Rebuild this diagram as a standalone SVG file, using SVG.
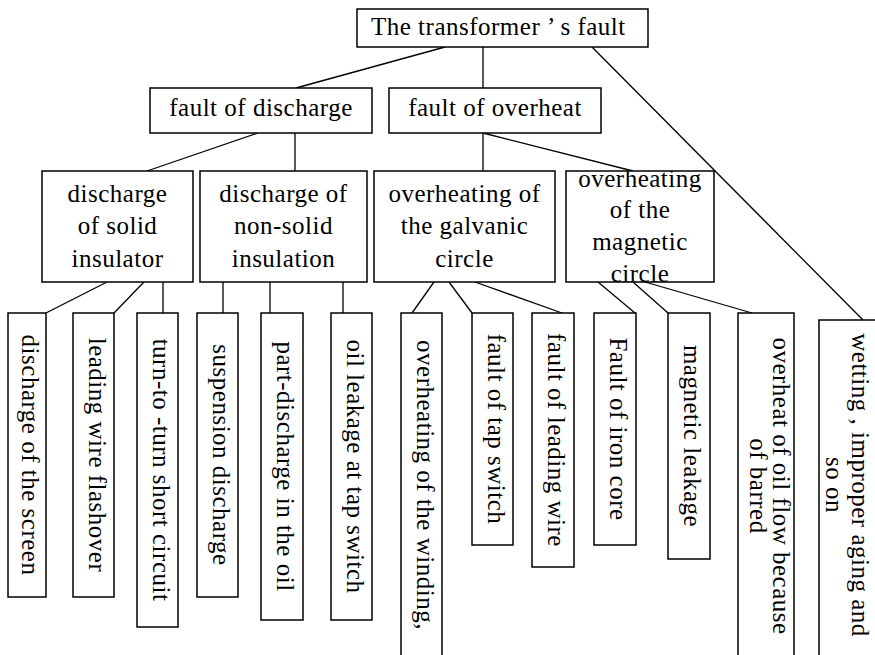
<svg xmlns="http://www.w3.org/2000/svg" width="875" height="655" viewBox="0 0 875 655">
<style>
.box{fill:#fff;stroke:#000;stroke-width:1.5}
.ln{stroke:#000;stroke-width:1.3;fill:none}
.t{font-family:"Liberation Serif","Times New Roman",serif;font-size:25px;letter-spacing:0.5px;fill:#000}
.c{text-anchor:middle}
</style>
<defs>
<clipPath id="clipMag"><rect x="566" y="171" width="160" height="200"/></clipPath>
</defs>
<rect width="875" height="655" fill="#fff"/>
<g id="connectors" class="ln">
<line x1="445" y1="47" x2="296" y2="88"/>
<line x1="483" y1="47" x2="483" y2="88"/>
<line x1="592" y1="47" x2="863" y2="320"/>
<line x1="258" y1="133" x2="147" y2="171"/>
<line x1="295" y1="133" x2="295" y2="171"/>
<line x1="483" y1="133" x2="483" y2="171"/>
<line x1="483" y1="133" x2="633" y2="171"/>
<line x1="107" y1="282" x2="46" y2="313"/>
<line x1="144" y1="282" x2="114" y2="313"/>
<line x1="163" y1="282" x2="163" y2="313"/>
<line x1="223" y1="282" x2="223" y2="313"/>
<line x1="270" y1="282" x2="270" y2="313"/>
<line x1="343" y1="282" x2="343" y2="313"/>
<line x1="434" y1="282" x2="412" y2="313"/>
<line x1="449" y1="282" x2="472" y2="313"/>
<line x1="475" y1="282" x2="562" y2="313"/>
<line x1="598" y1="282" x2="635" y2="313"/>
<line x1="633" y1="282" x2="668" y2="313"/>
<line x1="645" y1="282" x2="752" y2="313"/>
</g>
<g id="root">
<rect class="box" x="357" y="9" width="291" height="38"/>
<text class="t" x="371" y="35">The transformer ’<tspan dx="6">s fault</tspan></text>
</g>
<g id="discharge">
<rect class="box" x="150" y="88" width="222" height="45"/>
<text class="t c" x="261" y="116">fault of discharge</text>
</g>
<g id="overheat">
<rect class="box" x="389" y="88" width="212" height="45"/>
<text class="t c" x="495" y="116">fault of overheat</text>
</g>
<g id="solid">
<rect class="box" x="42" y="171" width="151" height="111"/>
<text class="t c" x="117.5" y="202">discharge</text>
<text class="t c" x="117.5" y="234">of solid</text>
<text class="t c" x="117.5" y="267">insulator</text>
</g>
<g id="nonsolid">
<rect class="box" x="200" y="171" width="167" height="111"/>
<text class="t c" x="283.5" y="202">discharge of</text>
<text class="t c" x="283.5" y="234">non-solid</text>
<text class="t c" x="283.5" y="267">insulation</text>
</g>
<g id="galvanic">
<rect class="box" x="374" y="171" width="181" height="111"/>
<text class="t c" x="464.5" y="202">overheating of</text>
<text class="t c" x="464.5" y="234">the galvanic</text>
<text class="t c" x="464.5" y="267">circle</text>
</g>
<g id="magnetic">
<rect class="box" x="566" y="171" width="148" height="111"/>
<g clip-path="url(#clipMag)">
<text class="t c" x="640" y="187">overheating</text>
<text class="t c" x="640" y="218">of the</text>
<text class="t c" x="640" y="250">magnetic</text>
<text class="t c" x="640" y="282">circle</text>
</g>
</g>
<g id="leaf1">
<rect class="box" x="8" y="313" width="38" height="284"/>
<text class="t c" transform="translate(22,455) rotate(90)">discharge of the screen</text>
</g>
<g id="leaf2">
<rect class="box" x="73" y="313" width="41" height="284"/>
<text class="t c" transform="translate(88.5,455) rotate(90)">leading wire flashover</text>
</g>
<g id="leaf3">
<rect class="box" x="137" y="313" width="41" height="314"/>
<text class="t c" transform="translate(152.5,470) rotate(90)">turn-to -turn short circuit</text>
</g>
<g id="leaf4">
<rect class="box" x="197" y="313" width="41" height="284"/>
<text class="t c" transform="translate(212.5,455) rotate(90)">suspension discharge</text>
</g>
<g id="leaf5">
<rect class="box" x="261" y="313" width="42" height="307"/>
<text class="t c" transform="translate(277,466.5) rotate(90)">part-discharge in the oil</text>
</g>
<g id="leaf6">
<rect class="box" x="331" y="313" width="41" height="307"/>
<text class="t c" transform="translate(346.5,466.5) rotate(90)">oil leakage at tap switch</text>
</g>
<g id="leaf7">
<rect class="box" x="401" y="313" width="41" height="345"/>
<text class="t c" transform="translate(416.5,485) rotate(90)">overheating of the winding,</text>
</g>
<g id="leaf8">
<rect class="box" x="472" y="313" width="41" height="232"/>
<text class="t c" transform="translate(487.5,429) rotate(90)">fault of tap switch</text>
</g>
<g id="leaf9">
<rect class="box" x="532" y="313" width="42" height="254"/>
<text class="t c" transform="translate(548,440) rotate(90)">fault of leading wire</text>
</g>
<g id="leaf10">
<rect class="box" x="594" y="313" width="42" height="232"/>
<text class="t c" transform="translate(610,429) rotate(90)">Fault of iron core</text>
</g>
<g id="leaf11">
<rect class="box" x="668" y="313" width="42" height="246"/>
<text class="t c" transform="translate(684,436) rotate(90)">magnetic leakage</text>
</g>
<g id="leaf12">
<rect class="box" x="738" y="313" width="56" height="345"/>
<text class="t c" transform="translate(773,486) rotate(90)"><tspan x="0" y="0">overheat of oil flow because</tspan><tspan x="0" y="23">of barred</tspan></text>
</g>
<g id="leaf13">
<rect class="box" x="819" y="320" width="58" height="338"/>
<text class="t c" transform="translate(852,485) rotate(90)"><tspan x="0" y="0">wetting , improper aging and</tspan><tspan x="0" y="26">so on</tspan></text>
</g>
</svg>
